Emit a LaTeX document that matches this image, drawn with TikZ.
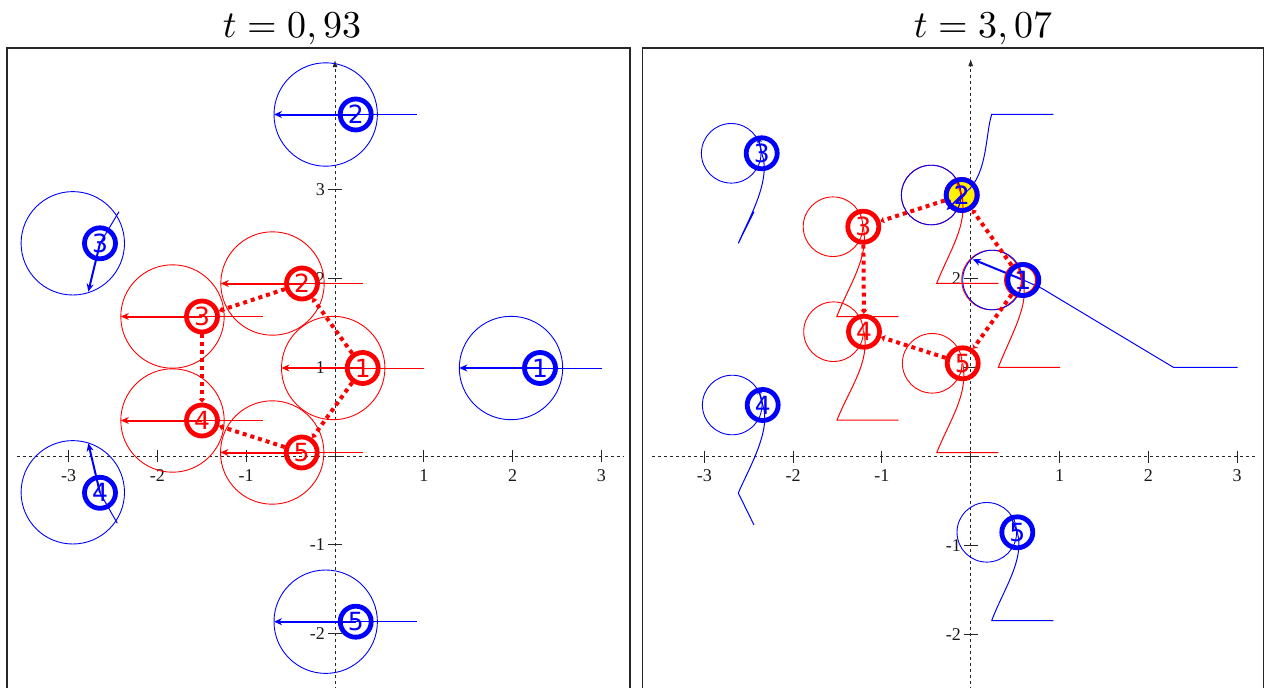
\documentclass[tikz,border=0pt]{standalone}
\usepackage{fontspec}
\newfontfamily\lblfont{Liberation Serif}
\newfontfamily\numfont{DejaVu Sans}
\usetikzlibrary{arrows.meta}
\pgfdeclarelayer{back}
\pgfdeclarelayer{mid}
\pgfsetlayers{back,mid,main}
\begin{document}
\begin{tikzpicture}[x=1pt,y=-1pt,
  frame/.style={draw=black!85, line width=1.3pt},
  axisline/.style={black!85, line width=0.9pt, dash pattern=on 3pt off 3pt},
  tickmark/.style={black!85, line width=0.9pt},
  lbl/.style={font=\lblfont\fontsize{18}{18}\selectfont, inner sep=0pt, text=black!90},
  sensR/.style={red, line width=0.9pt},
  sensB/.style={blue, line width=0.9pt},
  trailR/.style={red, line width=1pt},
  trailB/.style={blue, line width=1pt},
  headR/.style={red, line width=2pt, -{Stealth[length=8pt,width=7pt]}},
  headB/.style={blue, line width=2pt, -{Stealth[length=8pt,width=7pt]}},
  shortR/.style={red, line width=1.3pt, -{Stealth[length=6pt,width=5pt]}},
  shortB/.style={blue, line width=1.3pt, -{Stealth[length=6pt,width=5pt]}},
  link/.style={red, line width=4pt, dash pattern=on 4pt off 4pt, -{Stealth[length=4pt,width=7pt]}},
  robot/.style={circle, line width=4.8pt, minimum size=31pt, inner sep=0pt, font=\numfont\fontsize{25}{25}\selectfont},
  robR/.style={robot, draw=red, text=red},
  robB/.style={robot, draw=blue, text=blue},
  ttl/.style={scale=3.8, inner sep=0pt}
]
\useasboundingbox (0,0) rectangle (1272,688);

% ---------- positions ----------
\coordinate (lR1) at (362.7,368);
\coordinate (lR2) at (302,283.5);
\coordinate (lR3) at (202,316.5);
\coordinate (lR4) at (202,420.5);
\coordinate (lR5) at (301.7,452.5);
\coordinate (lB1) at (540,368);
\coordinate (lB2) at (355.7,114.5);
\coordinate (lB3) at (100,243.3);
\coordinate (lB4) at (100,492.8);
\coordinate (lB5) at (355.7,621.7);

\coordinate (rR1) at (1022,280);
\coordinate (rR2) at (961.7,195);
\coordinate (rR3) at (863.3,226.7);
\coordinate (rR4) at (864,331.7);
\coordinate (rR5) at (962.7,363.3);
\coordinate (rB1) at (1023.3,280);
\coordinate (rB2) at (961.7,195);
\coordinate (rB3) at (761.7,153.3);
\coordinate (rB4) at (762.7,405);
\coordinate (rB5) at (1017.3,532.3);

% ---------- titles ----------
\node[ttl, anchor=base] (title1) at (292,37.5) {$t=0,93$};
\node[ttl, anchor=base] (title2) at (983,37.5) {$t=3,07$};

\begin{pgfonlayer}{back}
% frames
\draw[frame] (7,690) -- (7,48) -- (630,48) -- (630,690);
\draw[frame] (642.5,690) -- (642.5,48) -- (1263.5,48) -- (1263.5,690);
% left axes
\draw[axisline] (16.7,456) -- (623,456);
\draw[axisline, -{Latex[length=7pt,width=5pt]}] (335,690) -- (335,60);
\foreach \k in {-3,...,3} {\draw[tickmark] ({335+\k*88.8},450) -- ({335+\k*88.8},462);}
\foreach \k in {-2,...,3} {\draw[tickmark] (328,{456-\k*88.8}) -- (342,{456-\k*88.8});}
\foreach \k in {-3,-2,-1,1,2,3} {\node[lbl, anchor=base] (lx\k) at ({335+\k*88.8},481.5) {\k};}
\foreach \k in {-2,-1,1,2,3} {\node[lbl, anchor=base east] (ly\k) at (325,{456-\k*88.8+6}) {\k};}
% right axes
\draw[axisline] (652,456.5) -- (1257,456.5);
\draw[axisline, -{Latex[length=7pt,width=5pt]}] (970.7,690) -- (970.7,59);
\foreach \k in {-3,...,3} {\draw[tickmark] ({970.7+\k*88.8},450.5) -- ({970.7+\k*88.8},462.5);}
\foreach \k in {-2,...,3} {\draw[tickmark] (963.7,{456.5-\k*88.8}) -- (977.7,{456.5-\k*88.8});}
\foreach \k in {-3,-2,-1,1,2,3} {\node[lbl, anchor=base] (rx\k) at ({970.7+\k*88.8},481.5) {\k};}
\foreach \k in {-2,-1,2} {\node[lbl, anchor=base east] (ry\k) at (961,{456.5-\k*88.8+6}) {\k};}
\end{pgfonlayer}

\begin{pgfonlayer}{mid}
% yellow marker
\fill[yellow] (rB2) circle[radius=15.5];
% ---- left panel sensing circles ----
\draw[sensR] (333.2,368) circle[radius=51.7];
\draw[sensR] (272.5,283.5) circle[radius=51.7];
\draw[sensR] (172.5,316.5) circle[radius=51.7];
\draw[sensR] (172.5,420.5) circle[radius=51.7];
\draw[sensR] (272.2,452.5) circle[radius=51.7];
\draw[sensB] (511,368) circle[radius=51.7];
\draw[sensB] (325.7,114.5) circle[radius=51.7];
\draw[sensB] (72.8,243.3) circle[radius=51.7];
\draw[sensB] (72.8,492.3) circle[radius=51.7];
\draw[sensB] (325.7,621.7) circle[radius=51.7];
% left trails
\draw[trailR] (lR1) -- ++(61.3,0);
\draw[trailR] (lR2) -- ++(61,0);
\draw[trailR] (lR3) -- ++(61,0);
\draw[trailR] (lR4) -- ++(61,0);
\draw[trailR] (lR5) -- ++(61,0);
\draw[trailB] (lB1) -- ++(61.7,0);
\draw[trailB] (lB2) -- ++(61.6,0);
\draw[trailB] (lB5) -- ++(61.6,0);
\draw[trailB] (lB3) -- ++(19,-31.6);
\draw[trailB] (lB4) -- ++(17.3,30.5);
% left heading arrows
\draw[headR] (lR1) -- ++(-81.2,0);
\draw[headR] (lR2) -- ++(-81.2,0);
\draw[headR] (lR3) -- ++(-81.2,0);
\draw[headR] (lR4) -- ++(-81.2,0);
\draw[headR] (lR5) -- ++(-81.2,0);
\draw[headB] (lB1) -- ++(-80.7,0);
\draw[headB] (lB2) -- ++(-81.7,0);
\draw[headB] (lB5) -- ++(-81.7,0);
\draw[headB] (lB3) -- ++(-11.7,48.4);
\draw[headB] (lB4) -- ++(-11.7,-49.5);

% ---- right panel sensing circles ----
\draw[sensR] (991.5,280) circle[radius=29.8];
\draw[sensR] (931.2,195) circle[radius=29.8];
\draw[sensR] (833,226.7) circle[radius=29.8];
\draw[sensR] (833.5,331.7) circle[radius=29.8];
\draw[sensR] (932.2,363.3) circle[radius=29.8];
\draw[sensB] (992.5,280) circle[radius=29.8];
\draw[sensB] (931.2,195) circle[radius=29.8];
\draw[sensB] (731.2,153.3) circle[radius=29.8];
\draw[sensB] (732.2,405) circle[radius=29.8];
\draw[sensB] (986.8,532.3) circle[radius=29.8];
% right trails (red)
\draw[trailR] (1060,367.3) -- (998.3,367.3) .. controls (1011,335) and (1031,302) .. (rR1);
\draw[trailR] (998.3,283.3) -- (936.7,283.3) .. controls (950,250) and (968,225) .. (rR2);
\draw[trailR] (898.3,316.7) -- (836.7,316.7) .. controls (850,283) and (869,258) .. (rR3);
\draw[trailR] (898.3,420) -- (837,420) .. controls (850.3,387) and (870,362.7) .. (rR4);
\draw[trailR] (998.3,452.7) -- (936.7,452.7) .. controls (950,419.7) and (968.7,394.3) .. (rR5);
% right trails (blue)
\draw[trailB] (1237.7,367.3) -- (1173.3,367.3) -- (1041.7,288.3) -- (rB1);
\draw[trailB] (1053.3,114.3) -- (991.7,114.3) .. controls (985,135) and (988,180) .. (rB2);
\draw[trailB] (754,211.7) -- (738.3,243.3) .. controls (748,220) and (772,180) .. (rB3);
\draw[trailB] (754,525) -- (738.3,493) .. controls (748,470) and (772,430) .. (rB4);
\draw[trailB] (1053.3,620.7) -- (991.7,620.7) .. controls (1003,590) and (1025,560) .. (rB5);
% right heading arrows
\draw[shortR] (rR1) -- ++(-5,-17);
\draw[shortR] (rR2) -- ++(-6.7,-17);
\draw[headB] (rB1) -- ++(-50.6,-20.7);
\draw[blue, line width=1.5pt, -{Stealth[length=10pt,width=9pt]}] (rB2) -- ++(-15,15);
\draw[shortB] (rB3) -- ++(-3.4,-16.5);
\draw[shortB] (rB4) -- ++(-4.4,-16.7);
\draw[shortB] (rB5) -- ++(-7.3,-17.3);
\end{pgfonlayer}

% ---------- robots (left) ----------
\node[robR] (nlR1) at (lR1) {1};
\node[robR] (nlR2) at (lR2) {2};
\node[robR] (nlR3) at (lR3) {3};
\node[robR] (nlR4) at (lR4) {4};
\node[robR] (nlR5) at (lR5) {5};
\node[robB] (nlB1) at (lB1) {1};
\node[robB] (nlB2) at (lB2) {2};
\node[robB] (nlB3) at (lB3) {3};
\node[robB] (nlB4) at (lB4) {4};
\node[robB] (nlB5) at (lB5) {5};
% ---------- robots (right) ----------
\node[robR] (nrR1) at (rR1) {1};
\node[robR] (nrR2) at (rR2) {2};
\node[robR] (nrR3) at (rR3) {3};
\node[robR] (nrR4) at (rR4) {4};
\node[robR] (nrR5) at (rR5) {5};
\node[robB] (nrB1) at (rB1) {1};
\node[robB] (nrB2) at (rB2) {2};
\node[robB] (nrB3) at (rB3) {3};
\node[robB] (nrB4) at (rB4) {4};
\node[robB] (nrB5) at (rB5) {5};

% ---------- formation links ----------
\begin{pgfonlayer}{mid}
\draw[link] (nlR1) -- (nlR2);
\draw[link] (nlR2) -- (nlR3);
\draw[link] (nlR3) -- (nlR4);
\draw[link] (nlR5) -- (nlR4);
\draw[link] (nlR1) -- (nlR5);
\draw[link] (nrR1) -- (nrR2);
\draw[link] (nrR2) -- (nrR3);
\draw[link] (nrR3) -- (nrR4);
\draw[link] (nrR5) -- (nrR4);
\draw[link] (nrR1) -- (nrR5);
\end{pgfonlayer}
\end{tikzpicture}
\end{document}
